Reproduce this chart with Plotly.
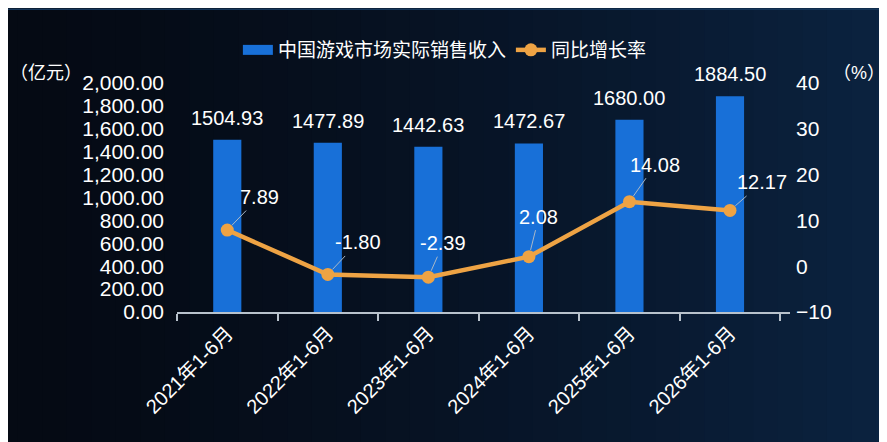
import plotly.graph_objects as go

# 数据
periods = ["2021年1-6月", "2022年1-6月", "2023年1-6月", "2024年1-6月", "2025年1-6月", "2026年1-6月"]
revenue = [1504.93, 1477.89, 1442.63, 1472.67, 1680.00, 1884.50]
growth = [7.89, -1.80, -2.39, 2.08, 14.08, 12.17]
# 标签偏移 (像素)
label_dx = [32, 30, 15, 10, 26, 32]
label_dy = [-33, -32, -34, -40, -37, -28]

FONT = "Liberation Sans, Arial, Noto Sans CJK SC, sans-serif"
BLUE = "#1870d8"
ORANGE = "#eea344"

fig = go.Figure()

# 图例占位 (宽条形图例)
fig.add_trace(go.Scatter(
    x=[None], y=[None], name="中国游戏市场实际销售收入",
    mode="lines", line=dict(color=BLUE, width=12),
))

fig.add_trace(go.Bar(
    x=periods, y=revenue,
    name="中国游戏市场实际销售收入",
    marker_color=BLUE, marker_line_width=0,
    showlegend=False,
    yaxis="y",
))

fig.add_trace(go.Scatter(
    x=periods, y=growth,
    name="同比增长率",
    mode="lines+markers",
    line=dict(color=ORANGE, width=4.5),
    marker=dict(color=ORANGE, size=13),
    yaxis="y2",
))

annotations = []
# 柱子上方数值
for p, v in zip(periods, revenue):
    annotations.append(dict(
        x=p, y=v, xref="x", yref="y", text=f"{v:.2f}",
        showarrow=False, yanchor="middle", yshift=22,
        font=dict(size=20, color="white", family=FONT),
    ))
# 折线数值 + 引导线
for p, g, dx, dy in zip(periods, growth, label_dx, label_dy):
    annotations.append(dict(
        x=p, y=g, xref="x", yref="y2", text=f"{g:.2f}",
        showarrow=True, arrowhead=0, arrowwidth=1, arrowcolor="#a9b8c8",
        ax=dx, ay=dy, standoff=7, borderpad=2,
        font=dict(size=20, color="white", family=FONT),
    ))
# 单位
annotations.append(dict(x=-0.214, y=1.044, xref="paper", yref="paper", text="（亿元）",
                        showarrow=False, xanchor="center", yanchor="middle",
                        font=dict(size=18, color="white", family=FONT)))
annotations.append(dict(x=1.112, y=1.044, xref="paper", yref="paper", text="（%）",
                        showarrow=False, xanchor="center", yanchor="middle",
                        font=dict(size=18, color="white", family=FONT)))

# 背景渐变
shapes = []
n = 40
c0 = (5, 10, 20)
c1 = (12, 38, 70)
for i in range(n):
    t = i / (n - 1)
    c = tuple(int(c0[k] + (c1[k] - c0[k]) * t ** 1.4) for k in range(3))
    shapes.append(dict(type="rect", xref="paper", yref="paper", layer="below",
                       x0=-0.3 + i * 1.6 / n, x1=-0.3 + (i + 1) * 1.6 / n + 0.002,
                       y0=-0.6, y1=1.4, line_width=0,
                       fillcolor=f"rgb({c[0]},{c[1]},{c[2]})"))
shapes.append(dict(type="line", xref="paper", yref="paper", x0=-0.3, x1=1.3,
                   y0=1.322, y1=1.322, line=dict(color="#15365a", width=1.5)))

fig.update_layout(
    width=879, height=434,
    margin=dict(l=169, r=97, t=75, b=130, autoexpand=False),
    paper_bgcolor="#081a30", plot_bgcolor="rgba(0,0,0,0)",
    font=dict(family=FONT, color="white", size=18),
    bargap=0.72,
    showlegend=True,
    legend=dict(orientation="h", x=0.437, xanchor="center", y=1.144, yanchor="middle",
                font=dict(size=19, color="white", family=FONT),
                bgcolor="rgba(0,0,0,0)", itemwidth=30, tracegroupgap=0),
    xaxis=dict(
        type="category", tickangle=-45, tickson="boundaries", automargin=False,
        showline=True, linecolor="#b8c2cc", linewidth=1.5,
        ticks="outside", ticklen=7, tickcolor="#b8c2cc", tickwidth=1.5,
        showgrid=False, tickfont=dict(size=20, color="white", family=FONT),
    ),
    yaxis=dict(
        range=[0, 2000], dtick=200, tickformat=",.2f", automargin=False,
        showgrid=False, zeroline=False, showline=False,
        ticks="", ticklabelstandoff=12,
        tickfont=dict(size=21, color="white", family=FONT),
    ),
    yaxis2=dict(
        overlaying="y", side="right", range=[-10, 40], dtick=10, automargin=False,
        showgrid=False, zeroline=False, showline=False,
        ticks="", ticklabelstandoff=5,
        tickfont=dict(size=21, color="white", family=FONT),
    ),
    annotations=annotations,
    shapes=shapes,
)

fig.write_html("out.html")
